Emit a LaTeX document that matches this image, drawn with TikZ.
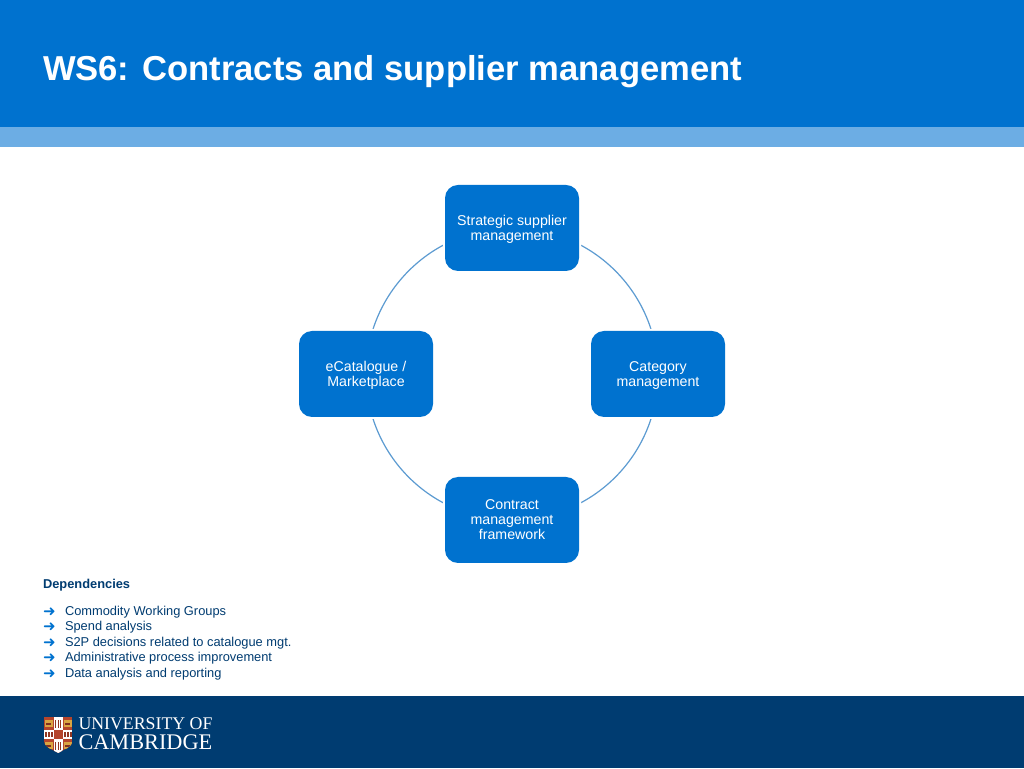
\documentclass[tikz,border=0pt]{standalone}
\usepackage{fontspec}
\setmainfont{Liberation Sans}
\newfontfamily\serifcam{Liberation Serif}
\newfontfamily\arrowfont{DejaVu Sans}
\usetikzlibrary{backgrounds}
\definecolor{hdrblue}{HTML}{0072CF}
\definecolor{barblue}{HTML}{6CADE4}
\definecolor{navy}{HTML}{003C71}
\definecolor{arcblue}{HTML}{5C9BD1}
\definecolor{crestred}{HTML}{B5452C}
\definecolor{crestgold}{HTML}{D9A441}
\newcommand\firstline{\rule{0pt}{13pt}}
\tikzset{
  every node/.style={inner sep=0pt,outer sep=0pt},
  stagebox/.style={minimum width=134pt,minimum height=86pt,rounded corners=13pt,
    fill=hdrblue,preaction={draw=white,line width=4pt},text=white,align=center,
    font=\fontsize{14.2}{15}\selectfont},
  conn/.style={draw=arcblue,line width=1.2pt},
  deptext/.style={anchor=west,text=navy,font=\fontsize{12.85}{15}\selectfont},
  deparrow/.style={anchor=west,text=hdrblue,font=\arrowfont\fontsize{15}{15}\selectfont},
}
\begin{document}
\begin{tikzpicture}[x=1pt,y=1pt]
\useasboundingbox (0,0) rectangle (1024,768);
\fill[hdrblue] (0,641) rectangle (1024,768);
\fill[barblue] (0,621) rectangle (1024,641);
\fill[navy] (0,0) rectangle (1024,72);
\node[anchor=west,text=white,font=\bfseries\fontsize{34.6}{40}\selectfont] (title) at (43,696) {WS6: Contracts and supplier management};

\node[stagebox] (top) at (512,540) {\firstline Strategic supplier\\management};
\node[stagebox] (right) at (658,394) {\firstline Category\\management};
\node[stagebox] (bottom) at (512,248) {Contract\\management\\framework};
\node[stagebox] (left) at (366,394) {\firstline eCatalogue /\\Marketplace};
\begin{pgfonlayer}{background}
\fill[white] (0,72) rectangle (1024,621);
\draw[conn] (top.center) arc[start angle=90,end angle=180,radius=146];
\draw[conn] (left.center) arc[start angle=180,end angle=270,radius=146];
\draw[conn] (bottom.center) arc[start angle=270,end angle=360,radius=146];
\draw[conn] (right.center) arc[start angle=0,end angle=90,radius=146];
\end{pgfonlayer}

\node[anchor=west,text=navy,font=\bfseries\fontsize{12.85}{15}\selectfont] (dep) at (43,183) {Dependencies};
\foreach \n/\y/\t in {a/156/Commodity Working Groups,b/140.5/Spend analysis,c/125/S2P decisions related to catalogue mgt.,d/109.5/Administrative process improvement,e/94/Data analysis and reporting}{
  \node[deparrow] (arr\n) at (43,\y) {➜};
  \node[deptext] (dep\n) at (65,\y) {\t};
}

% crest
\begin{scope}
\clip (44,51) -- (72.5,51) -- (72.5,28) .. controls (72.5,20) and (64,19) .. (58.2,15) .. controls (52,19) and (44,20) .. (44,28) -- cycle;
\fill[crestred] (44,15) rectangle (73,51);
\fill[white] (53.5,15) rectangle (63,51);
\fill[white] (44,29) rectangle (73,38);
\fill[crestred] (53.5,29) rectangle (63,38);
\foreach \xx/\yy in {48.7/44.5,67.8/44.5,48.7/22.5,67.8/22.5}{
  \fill[crestgold] (\xx-3.8,\yy-3.5) rectangle (\xx+3.8,\yy+3.5);
  \fill[crestred!70!black] (\xx-2.5,\yy-1) rectangle (\xx+2.5,\yy+1);
}
\foreach \yy in {44.5,22}{\foreach \xx in {55.8,58.2,60.6}{\fill[crestred!80!black] (\xx-.6,\yy-4) rectangle (\xx+.6,\yy+4);}}
\foreach \xx in {46,49,52,65,68,71}{\fill[crestred!80!black] (\xx-.8,31) rectangle (\xx+.8,36);}
\end{scope}
\node[anchor=west,text=white,font=\serifcam\fontsize{17.8}{20}\selectfont] (uni) at (78.5,44.5) {UNIVERSITY OF};
\node[anchor=west,text=white,font=\serifcam\fontsize{22.3}{24}\selectfont] (cam) at (78.5,25.5) {CAMBRIDGE};
\end{tikzpicture}
\end{document}
